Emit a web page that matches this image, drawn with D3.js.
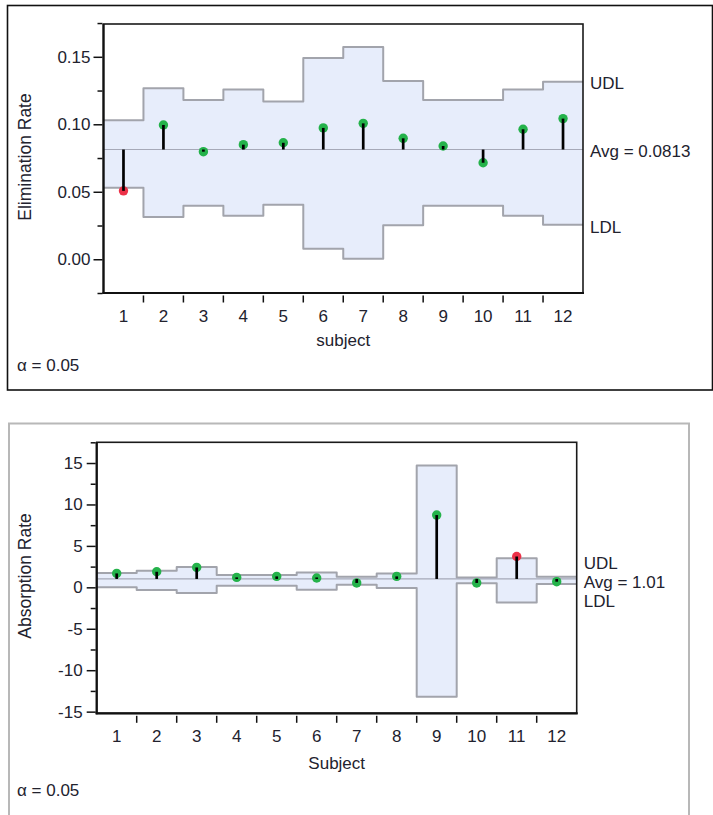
<!DOCTYPE html>
<html>
<head>
<meta charset="utf-8">
<script src="https://cdn.jsdelivr.net/npm/d3@7"></script>
<style>
  html, body { margin: 0; padding: 0; background: #fff; }
  svg { display: block; }
  text { font-family: "Liberation Sans", Arial, sans-serif; fill: #22222e; }
</style>
</head>
<body>
<svg id="chart" width="713" height="815"></svg>
<script>
// Subjects on the x axis
const subjects = ["1", "2", "3", "4", "5", "6", "7", "8", "9", "10", "11", "12"];

// Elimination rate: per-subject estimate and decision limits
const elimValues = [0.0507, 0.0995, 0.0797, 0.0849, 0.0863, 0.0973, 0.1007, 0.0896, 0.0839, 0.0715, 0.0963, 0.1042];
const elimUDL    = [0.1030, 0.1267, 0.1180, 0.1257, 0.1168, 0.1492, 0.1573, 0.1321, 0.1180, 0.1180, 0.1257, 0.1316];
const elimLDL    = [0.0530, 0.0313, 0.0396, 0.0322, 0.0404, 0.0077, 0.0003, 0.0252, 0.0396, 0.0396, 0.0322, 0.0256];
const elimAvg = 0.0813;
const elimMajorTicks = [0.00, 0.05, 0.10, 0.15];
const elimMinorTicks = [-0.025, 0.025, 0.075, 0.125, 0.175];

// Absorption rate: per-subject estimate and decision limits
const absValues = [1.68, 1.88, 2.40, 1.20, 1.32, 1.13, 0.53, 1.32, 8.72, 0.53, 3.72, 0.68];
const absUDL    = [1.72, 2.00, 2.45, 1.48, 1.48, 1.80, 1.28, 1.68, 14.70, 1.20, 3.52, 1.28];
const absLDL    = [0.00, -0.32, -0.68, 0.20, 0.20, -0.28, 0.32, -0.08, -13.20, 0.48, -1.84, 0.40];
const absAvg = 1.01;
const absMajorTicks = [-15, -10, -5, 0, 5, 10, 15];
const absMinorTicks = [-12.5, -7.5, -2.5, 2.5, 7.5, 12.5, 17.5];

const alphaLabel = "α = 0.05";

const svg = d3.select("#chart");

// Outer panels
svg.append("rect")
  .attr("x", 7.5).attr("y", 5.5).attr("width", 705).attr("height", 384.5)
  .attr("fill", "none").attr("stroke", "#111").attr("stroke-width", 1.6);
svg.append("rect")
  .attr("x", 9).attr("y", 423.5).attr("width", 680).attr("height", 420)
  .attr("fill", "none").attr("stroke", "#b8b8b8").attr("stroke-width", 2);

const GREEN = "#24b24a";
const RED = "#ec3148";
const BAND = "#e7edfb";
const LIMIT = "#a2a4ac";

function drawChart(opt) {
  const { left, top, right, bottom } = opt.box;
  const g = svg.append("g");

  const x = d3.scaleBand().domain(subjects).range([left, right]).paddingInner(0).paddingOuter(0);
  const y = d3.scaleLinear().domain(opt.domain).range([bottom, top]);

  // Step outline points: each subject spans its whole band
  const steps = arr => subjects.flatMap((s, i) => [
    { x: x(s), v: arr[i] },
    { x: x(s) + x.bandwidth(), v: arr[i] }
  ]);
  const bandPts = subjects.flatMap((s, i) => [
    { x: x(s), lo: opt.ldl[i], hi: opt.udl[i] },
    { x: x(s) + x.bandwidth(), lo: opt.ldl[i], hi: opt.udl[i] }
  ]);

  g.append("path")
    .datum(bandPts)
    .attr("fill", BAND)
    .attr("d", d3.area().x(d => d.x).y0(d => y(d.lo)).y1(d => y(d.hi)));

  const stepLine = d3.line().x(d => d.x).y(d => y(d.v));
  [opt.udl, opt.ldl].forEach(arr => {
    g.append("path")
      .datum(steps(arr))
      .attr("fill", "none")
      .attr("stroke", LIMIT)
      .attr("stroke-width", 2)
      .attr("stroke-linejoin", "round")
      .attr("d", stepLine);
  });

  // Centre line
  g.append("line")
    .attr("x1", left).attr("x2", right)
    .attr("y1", y(opt.avg)).attr("y2", y(opt.avg))
    .attr("stroke", "#a6a9b8").attr("stroke-width", 1.2);

  // Points, then needles from the centre line
  const cx = s => x(s) + x.bandwidth() / 2;
  g.selectAll("circle.pt")
    .data(opt.values)
    .join("circle")
    .attr("class", "pt")
    .attr("cx", (d, i) => cx(subjects[i]))
    .attr("cy", d => y(d))
    .attr("r", 4.7)
    .attr("fill", (d, i) => (d > opt.udl[i] || d < opt.ldl[i]) ? RED : GREEN);

  g.selectAll("line.stem")
    .data(opt.values)
    .join("line")
    .attr("class", "stem")
    .attr("x1", (d, i) => cx(subjects[i]))
    .attr("x2", (d, i) => cx(subjects[i]))
    .attr("y1", y(opt.avg))
    .attr("y2", d => {
      const dy = y(d) - y(opt.avg);
      return Math.abs(dy) < 1.5 ? y(opt.avg) + (dy >= 0 ? 1.5 : -1.5) : y(d);
    })
    .attr("stroke", "#000")
    .attr("stroke-width", 2.7);

  // Plot frame
  g.append("rect")
    .attr("x", left).attr("y", top)
    .attr("width", right - left).attr("height", bottom - top)
    .attr("fill", "none").attr("stroke", "#1a1a1a").attr("stroke-width", 1.6);
  g.append("line").attr("x1", left).attr("x2", left).attr("y1", top).attr("y2", bottom + 1)
    .attr("stroke", "#111").attr("stroke-width", 2.2);
  g.append("line").attr("x1", left - 1).attr("x2", right + 1).attr("y1", bottom).attr("y2", bottom)
    .attr("stroke", "#111").attr("stroke-width", 2.2);

  // Y axis: labelled major ticks and short minor ticks
  const yAxis = d3.axisLeft(y)
    .tickValues(opt.majorTicks)
    .tickFormat(opt.tickFormat)
    .tickSize(9)
    .tickPadding(opt.tickPad);
  const ya = g.append("g").attr("transform", `translate(${left - 1},0)`).call(yAxis);
  ya.select(".domain").remove();
  ya.selectAll(".tick line").attr("stroke", "#111").attr("stroke-width", 1.5);
  ya.selectAll(".tick text")
    .style("font-size", "17px")
    .attr("fill", "#22222e");

  const yMinor = d3.axisLeft(y).tickValues(opt.minorTicks).tickFormat("").tickSize(5);
  const ym = g.append("g").attr("transform", `translate(${left - 1},0)`).call(yMinor);
  ym.select(".domain").remove();
  ym.selectAll(".tick line").attr("stroke", "#111").attr("stroke-width", 1.5);

  // X axis: separators between subjects, labels centred in each band
  const sep = subjects.slice(1).map(s => x(s));
  g.selectAll("line.sep")
    .data(sep)
    .join("line")
    .attr("class", "sep")
    .attr("x1", d => d).attr("x2", d => d)
    .attr("y1", bottom + 2.5).attr("y2", bottom + 9.5)
    .attr("stroke", "#111").attr("stroke-width", 1.5);
  g.selectAll("text.xl")
    .data(subjects)
    .join("text")
    .attr("class", "xl")
    .attr("x", d => cx(d))
    .attr("y", bottom + 17)
    .attr("dy", "0.71em")
    .attr("text-anchor", "middle")
    .style("font-size", "17px")
    .text(d => d);

  // Axis titles
  g.append("text")
    .attr("x", (left + right) / 2)
    .attr("y", opt.xTitleY)
    .attr("dy", "0.35em")
    .attr("text-anchor", "middle")
    .style("font-size", "17px")
    .text(opt.xTitle);
  g.append("text")
    .attr("transform", `translate(25,${opt.yTitleY}) rotate(-90)`)
    .attr("dy", "0.35em")
    .attr("text-anchor", "middle")
    .style("font-size", "17.5px")
    .text(opt.yTitle);

  // Limit labels on the right
  opt.sideLabels(y).forEach(l => {
    g.append("text")
      .attr("x", right + 7)
      .attr("y", l.y)
      .attr("dy", "0.35em")
      .style("font-size", "17px")
      .text(l.text);
  });

  g.append("text")
    .attr("x", 17)
    .attr("y", opt.alphaY)
    .attr("dy", "0.35em")
    .style("font-size", "17px")
    .text(alphaLabel);
}

drawChart({
  box: { left: 103.5, top: 24, right: 583, bottom: 293 },
  domain: [-0.025, 0.1743],
  values: elimValues, udl: elimUDL, ldl: elimLDL, avg: elimAvg,
  majorTicks: elimMajorTicks, minorTicks: elimMinorTicks,
  tickFormat: d3.format(".2f"), tickPad: 3,
  xTitle: "subject", xTitleY: 340,
  yTitle: "Elimination Rate", yTitleY: 157,
  alphaY: 365,
  sideLabels: y => [
    { text: "UDL", y: y(elimUDL[elimUDL.length - 1]) + 1 },
    { text: "Avg = " + elimAvg, y: y(elimAvg) + 2 },
    { text: "LDL", y: y(elimLDL[elimLDL.length - 1]) + 2 }
  ]
});

drawChart({
  box: { left: 96.7, top: 442.3, right: 576.7, bottom: 713.3 },
  domain: [-15.2, 17.5],
  values: absValues, udl: absUDL, ldl: absLDL, avg: absAvg,
  majorTicks: absMajorTicks, minorTicks: absMinorTicks,
  tickFormat: d => String(d), tickPad: 4,
  xTitle: "Subject", xTitleY: 763,
  yTitle: "Absorption Rate", yTitleY: 576,
  alphaY: 790.5,
  sideLabels: y => [
    { text: "UDL", y: y(absAvg) - 16 },
    { text: "Avg = " + absAvg, y: y(absAvg) + 3 },
    { text: "LDL", y: y(absAvg) + 22 }
  ]
});
</script>
</body>
</html>
